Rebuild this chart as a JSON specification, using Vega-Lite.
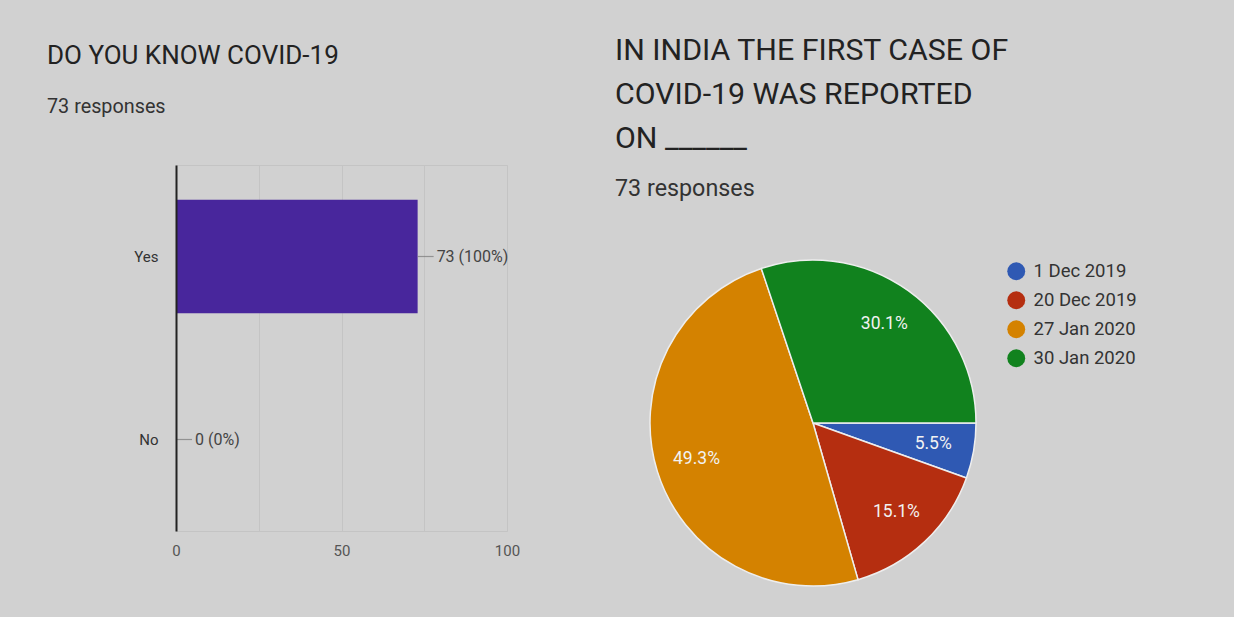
{
  "$schema": "https://vega.github.io/schema/vega-lite/v6.json",
  "background": "#d1d1d1",
  "padding": {"left": 46, "top": 36, "right": 135, "bottom": 40},
  "config": {"font": "Roboto", "view": {"stroke": null}, "concat": {"spacing": 94}},
  "datasets": {
    "q1": [
      {"answer": "Yes", "count": 73, "label": "73 (100%)"},
      {"answer": "No", "count": 0, "label": "0 (0%)"}
    ],
    "q2": [
      {"date": "1 Dec 2019", "count": 4, "pct": "5.5%", "order": 1},
      {"date": "20 Dec 2019", "count": 11, "pct": "15.1%", "order": 2},
      {"date": "27 Jan 2020", "count": 36, "pct": "49.3%", "order": 3},
      {"date": "30 Jan 2020", "count": 22, "pct": "30.1%", "order": 4}
    ]
  },
  "hconcat": [
    {
      "width": 331,
      "height": 366,
      "data": {"name": "q1"},
      "view": {"stroke": "#c4c4c4"},
      "title": {
        "text": "DO YOU KNOW COVID-19",
        "subtitle": "73 responses",
        "anchor": "start",
        "frame": "group",
        "dx": -129,
        "fontSize": 26,
        "fontWeight": "normal",
        "color": "#222222",
        "subtitleFontSize": 19.8,
        "subtitleColor": "#333333",
        "subtitlePadding": 28,
        "offset": 48
      },
      "encoding": {
        "y": {
          "field": "answer",
          "type": "nominal",
          "sort": ["Yes", "No"],
          "scale": {"paddingInner": 0.38, "paddingOuter": 0.19},
          "axis": {
            "title": null,
            "ticks": false,
            "domain": true,
            "domainColor": "#222222",
            "domainWidth": 2,
            "labelPadding": 18,
            "labelFontSize": 15,
            "labelColor": "#333333",
            "zindex": 2
          }
        }
      },
      "layer": [
        {
          "mark": {"type": "bar", "color": "#48269c"},
          "encoding": {
            "x": {
              "field": "count",
              "type": "quantitative",
              "scale": {"domain": [0, 100]},
              "axis": {
                "title": null,
                "values": [0, 25, 50, 75, 100],
                "labelExpr": "datum.value % 50 === 0 ? datum.label : ''",
                "labelFlush": false,
                "grid": true,
                "gridColor": "#c4c4c4",
                "ticks": false,
                "domain": false,
                "labelFontSize": 15,
                "labelColor": "#555555",
                "labelPadding": 12
              }
            }
          }
        },
        {
          "mark": {"type": "tick", "orient": "horizontal", "size": 16, "thickness": 1.2, "xOffset": 8, "color": "#777777"},
          "encoding": {"x": {"field": "count", "type": "quantitative"}}
        },
        {
          "mark": {"type": "text", "align": "left", "dx": 19, "fontSize": 16, "color": "#444444", "baseline": "middle"},
          "encoding": {"x": {"field": "count", "type": "quantitative"}, "text": {"field": "label"}}
        }
      ]
    },
    {
      "width": 326,
      "height": 326,
      "data": {"name": "q2"},
      "title": {
        "text": ["IN INDIA THE FIRST CASE OF", "COVID-19 WAS REPORTED", "ON ______"],
        "subtitle": "73 responses",
        "anchor": "start",
        "frame": "group",
        "dx": -35,
        "fontSize": 30.3,
        "lineHeight": 44,
        "fontWeight": "normal",
        "color": "#222222",
        "subtitleFontSize": 23.3,
        "subtitleColor": "#333333",
        "subtitlePadding": 23,
        "offset": -35
      },
      "encoding": {
        "theta": {"field": "count", "type": "quantitative", "stack": true, "scale": {"range": [1.5708, 7.854]}},
        "order": {"field": "order"},
        "color": {
          "field": "date",
          "type": "nominal",
          "scale": {
            "domain": ["1 Dec 2019", "20 Dec 2019", "27 Jan 2020", "30 Jan 2020"],
            "range": ["#2f59b3", "#b52e10", "#d48200", "#11821e"]
          },
          "legend": {
            "title": " ",
            "titleFontSize": 10,
            "titlePadding": 87,
            "orient": "right",
            "offset": -3,
            "symbolType": "circle",
            "symbolSize": 320,
            "symbolStrokeWidth": 0,
            "symbolOpacity": 1,
            "labelFontSize": 18.5,
            "labelColor": "#333333",
            "labelOffset": 8,
            "rowPadding": 10
          }
        }
      },
      "layer": [
        {"mark": {"type": "arc", "outerRadius": 163, "yOffset": 95, "stroke": "#eeeeee", "strokeWidth": 1.5}},
        {
          "mark": {"type": "text", "radius": 122, "yOffset": 95, "fontSize": 17.5},
          "encoding": {"text": {"field": "pct"}, "color": {"value": "#f2f2f2"}}
        }
      ]
    }
  ]
}
